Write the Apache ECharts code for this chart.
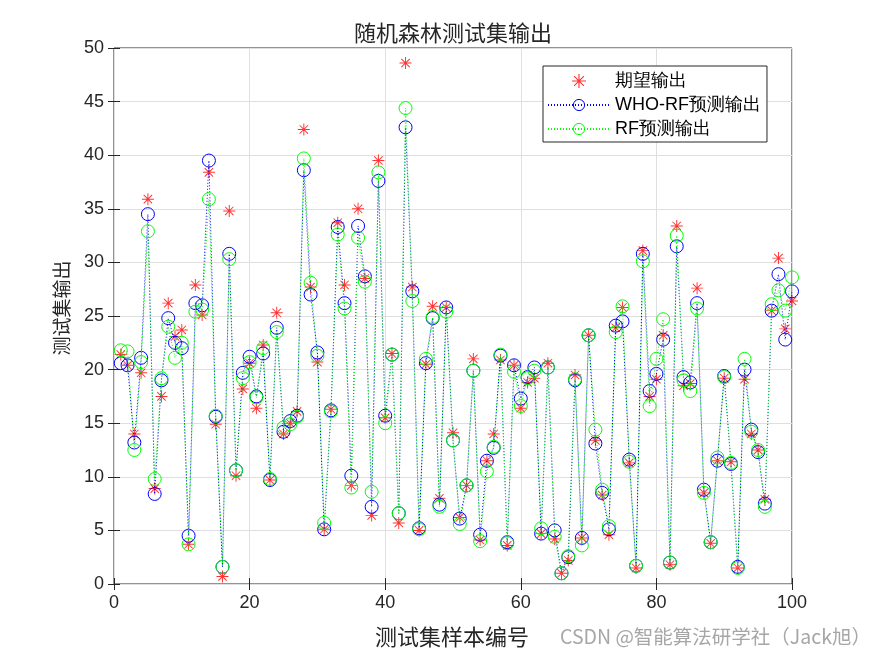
<!DOCTYPE html>
<html>
<head>
<meta charset="utf-8">
<script src="https://cdn.jsdelivr.net/npm/echarts@6/dist/echarts.min.js"></script>
<style>
  body { margin: 0; background: #fff; }
  #main { width: 875px; height: 656px; }
</style>
</head>
<body>
<div id="main"></div>
<script>
// 期望输出
const expected = [
  21.4, 20.4, 14.0, 19.7, 35.9, 8.9, 17.5, 26.2, 23.1, 23.7,
  3.7, 27.9, 25.1, 38.4, 14.9, 0.7, 34.8, 10.1, 18.2, 20.6,
  16.4, 22.3, 9.7, 25.3, 14.0, 15.0, 16.1, 42.4, 27.7, 20.7,
  5.1, 16.3, 33.7, 27.9, 9.2, 35.0, 28.5, 6.4, 39.5, 15.5,
  21.5, 5.7, 48.6, 27.7, 5.0, 20.5, 25.9, 8.0, 25.8, 14.1,
  6.2, 9.2, 21.0, 4.1, 11.5, 14.0, 20.9, 3.6, 20.4, 16.4,
  18.8, 19.2, 4.7, 20.6, 4.2, 1.0, 2.2, 19.5, 4.3, 23.2,
  13.4, 8.3, 4.6, 23.9, 25.8, 11.3, 1.5, 31.1, 17.5, 19.1,
  23.2, 1.8, 33.4, 18.5, 18.7, 27.6, 8.5, 3.8, 11.5, 19.2,
  11.4, 1.5, 19.1, 14.0, 12.5, 7.9, 25.5, 30.4, 23.8, 26.4
];
// WHO-RF预测输出
const whoRf = [
  20.6, 20.4, 13.2, 21.1, 34.5, 8.4, 19.0, 24.8, 22.5, 22.0,
  4.5, 26.2, 26.0, 39.5, 15.6, 1.6, 30.8, 10.6, 19.7, 21.2,
  17.5, 21.5, 9.7, 23.9, 14.2, 15.2, 15.7, 38.6, 27.0, 21.6,
  5.1, 16.2, 33.3, 26.2, 10.1, 33.4, 28.7, 7.2, 37.6, 15.7,
  21.4, 6.6, 42.6, 27.3, 5.2, 20.6, 24.8, 7.4, 25.8, 13.4,
  6.1, 9.2, 19.9, 4.6, 11.5, 12.7, 21.3, 3.9, 20.4, 17.3,
  19.3, 20.2, 4.7, 20.2, 5.0, 1.0, 2.5, 19.0, 4.3, 23.2,
  13.1, 8.5, 5.1, 24.1, 24.5, 11.6, 1.7, 30.8, 18.0, 19.6,
  22.8, 2.0, 31.5, 19.3, 18.8, 26.2, 8.8, 3.9, 11.5, 19.4,
  11.2, 1.6, 20.0, 14.4, 12.3, 7.5, 25.5, 28.9, 22.8, 27.3
];
// RF预测输出
const rf = [
  21.8, 21.7, 12.5, 20.7, 32.9, 9.8, 19.2, 24.0, 21.1, 22.5,
  3.7, 25.4, 25.6, 35.9, 15.7, 1.6, 30.3, 10.6, 19.2, 20.7,
  17.4, 22.0, 9.8, 23.5, 14.6, 14.9, 15.6, 39.7, 28.1, 21.3,
  5.7, 16.1, 32.6, 25.7, 9.0, 32.3, 28.2, 8.6, 38.4, 15.0,
  21.4, 6.6, 44.4, 26.4, 5.1, 21.0, 24.9, 7.2, 25.4, 13.4,
  5.6, 9.2, 19.9, 4.0, 10.5, 12.8, 21.4, 3.8, 19.8, 16.6,
  19.2, 19.9, 5.2, 20.2, 4.4, 1.0, 2.6, 19.1, 3.6, 23.2,
  14.4, 8.8, 5.4, 23.5, 25.9, 11.4, 1.7, 30.1, 16.6, 21.0,
  24.7, 2.0, 32.5, 19.0, 18.0, 25.7, 8.5, 3.9, 11.8, 19.3,
  11.3, 1.5, 21.0, 14.2, 12.5, 7.2, 26.1, 27.4, 25.5, 28.6
];
const seriesNames = ["期望输出", "WHO-RF预测输出", "RF预测输出"];

// 样本编号 1..100
const toPairs = arr => arr.map((v, i) => [i + 1, v]);

// MATLAB 的 '*' 标记（横、竖、两条斜线）
const STAR =
  "path://M46,0L54,0L54,100L46,100Z" +
  "M0,46L100,46L100,54L0,54Z" +
  "M17.8,12.2L87.8,82.2L82.2,87.8L12.2,17.8Z" +
  "M82.2,12.2L87.8,17.8L17.8,87.8L12.2,82.2Z";

const tickFont = "'Liberation Sans', Arial, sans-serif";
const cjkFont = "'Noto Sans CJK SC', sans-serif";
const axisColor = "#262626";

let myChart = echarts.init(document.getElementById("main"));

let option = {
  backgroundColor: "#fff",
  animation: false,
  grid: {
    left: 114,
    top: 48,
    width: 678,
    height: 536,
    show: true,
    borderColor: axisColor,
    borderWidth: 1
  },
  legend: {
    orient: "vertical",
    left: 543,
    top: 66,
    backgroundColor: "#fff",
    borderColor: axisColor,
    borderWidth: 1,
    borderRadius: 0,
    padding: [6, 6, 4, 4],
    itemWidth: 62,
    itemHeight: 14,
    itemGap: 6,
    itemStyle: { borderWidth: 1 },
    textStyle: { fontSize: 18, color: "#000", fontFamily: tickFont },
    data: [
      { name: seriesNames[0], icon: STAR },
      seriesNames[1],
      seriesNames[2]
    ]
  },
  xAxis: [
    {
      type: "value",
      min: 0,
      max: 100,
      interval: 20,
      position: "bottom",
      axisLine: { show: false },
      axisTick: { show: true, inside: true, length: 6, lineStyle: { color: axisColor } },
      axisLabel: { fontSize: 18, color: axisColor, margin: 10, fontFamily: tickFont },
      splitLine: { show: true, lineStyle: { color: "#dfdfdf", width: 1 } }
    },
    {
      type: "value",
      min: 0,
      max: 100,
      interval: 20,
      position: "top",
      axisLine: { show: false },
      axisTick: { show: true, inside: true, length: 6, lineStyle: { color: axisColor } },
      axisLabel: { show: false },
      splitLine: { show: false }
    }
  ],
  yAxis: [
    {
      type: "value",
      min: 0,
      max: 50,
      interval: 5,
      position: "left",
      axisLine: { show: false },
      axisTick: { show: true, inside: true, length: 6, lineStyle: { color: axisColor } },
      axisLabel: { fontSize: 18, color: axisColor, margin: 10, fontFamily: tickFont },
      splitLine: { show: true, lineStyle: { color: "#dfdfdf", width: 1 } }
    },
    {
      type: "value",
      min: 0,
      max: 50,
      interval: 5,
      position: "right",
      axisLine: { show: false },
      axisTick: { show: true, inside: true, length: 6, lineStyle: { color: axisColor } },
      axisLabel: { show: false },
      splitLine: { show: false }
    }
  ],
  graphic: [
    {
      // 标题
      type: "text",
      x: 453,
      y: 33,
      style: {
        text: "随机森林测试集输出",
        fontSize: 22,
        fontFamily: cjkFont,
        fill: axisColor,
        align: "center",
        verticalAlign: "middle"
      }
    },
    {
      // x 轴名称
      type: "text",
      x: 452,
      y: 637,
      style: {
        text: "测试集样本编号",
        fontSize: 22,
        fontFamily: cjkFont,
        fill: axisColor,
        align: "center",
        verticalAlign: "middle"
      }
    },
    {
      // y 轴名称
      type: "text",
      x: 62,
      y: 308,
      rotation: Math.PI / 2,
      style: {
        text: "测试集输出",
        fontSize: 19,
        fontFamily: cjkFont,
        fill: axisColor,
        align: "center",
        verticalAlign: "middle"
      }
    },
    {
      type: "text",
      x: 560,
      y: 637,
      style: {
        text: "CSDN @智能算法研学社（Jack旭）",
        fontSize: 19.5,
        fontFamily: cjkFont,
        fill: "#a6a6a6",
        verticalAlign: "middle"
      }
    }
  ],
  series: [
    {
      name: seriesNames[0],
      type: "scatter",
      symbol: STAR,
      symbolSize: 12,
      itemStyle: { color: "#ff0000" },
      data: toPairs(expected),
      z: 2
    },
    {
      name: seriesNames[1],
      type: "line",
      symbol: "circle",
      symbolSize: 13,
      showAllSymbol: true,
      itemStyle: { color: "rgba(0,0,0,0)", borderColor: "#0000ff", borderWidth: 1 },
      lineStyle: { color: "#0000ff", width: 1, type: [1, 2] },
      data: toPairs(whoRf),
      z: 3
    },
    {
      name: seriesNames[2],
      type: "line",
      symbol: "circle",
      symbolSize: 13,
      showAllSymbol: true,
      itemStyle: { color: "rgba(0,0,0,0)", borderColor: "#00ff00", borderWidth: 1 },
      lineStyle: { color: "#00ff00", width: 1, type: [1, 2] },
      data: toPairs(rf),
      z: 4
    }
  ]
};

myChart.setOption(option);
</script>
</body>
</html>
